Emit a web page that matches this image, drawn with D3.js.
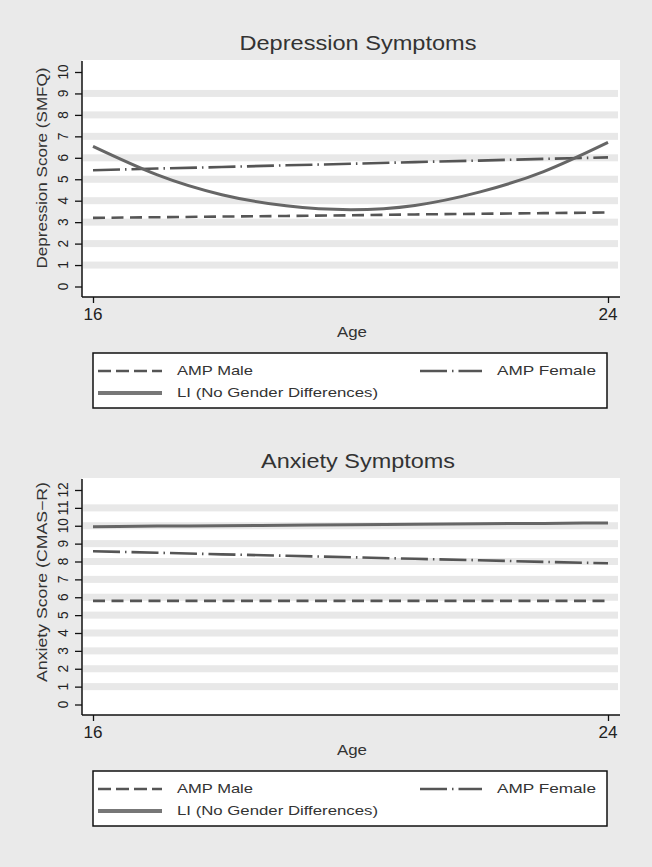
<!DOCTYPE html>
<html>
<head>
<meta charset="utf-8">
<script src="https://cdn.jsdelivr.net/npm/d3@7"></script>
<style>
  html, body { margin: 0; padding: 0; background: #eaeaea; }
  svg { display: block; }
  text { font-family: "Liberation Sans", Arial, Helvetica, sans-serif; }
</style>
</head>
<body>
<script>
// ---------- data ----------
const ages = [16, 17, 18, 19, 20, 21, 22, 23, 24];
const xTicks = [16, 24];

const depTitle = "Depression Symptoms";
const depYLabel = "Depression Score (SMFQ)";
const depYTicks = [0, 1, 2, 3, 4, 5, 6, 7, 8, 9, 10];
const depMale   = [3.20, 3.23, 3.26, 3.29, 3.32, 3.36, 3.39, 3.42, 3.45];
const depFemale = [5.42, 5.50, 5.57, 5.65, 5.72, 5.80, 5.87, 5.95, 6.02];
const depLI     = [6.53, 5.20, 4.28, 3.76, 3.58, 3.78, 4.40, 5.36, 6.72];

const anxTitle = "Anxiety Symptoms";
const anxYLabel = "Anxiety Score (CMAS\u2212R)";
const anxYTicks = [0, 1, 2, 3, 4, 5, 6, 7, 8, 9, 10, 11, 12];
const anxMale   = [5.80, 5.80, 5.80, 5.80, 5.80, 5.80, 5.80, 5.80, 5.80];
const anxFemale = [8.57, 8.49, 8.40, 8.32, 8.24, 8.15, 8.07, 7.98, 7.90];
const anxLI     = [9.95, 9.98, 10.00, 10.03, 10.06, 10.08, 10.11, 10.13, 10.16];

const legendLabels = ["AMP Male", "AMP Female", "LI (No Gender Differences)"];
const xLabel = "Age";

// ---------- drawing ----------
const W = 652, H = 867;
const svg = d3.select("body").append("svg").attr("width", W).attr("height", H);
svg.append("rect").attr("width", W).attr("height", H).attr("fill", "#eaeaea");

const styles = {
  male:   { color: "#555", width: 2.6, dash: "12,6.5" },
  female: { color: "#555", width: 2.6, dash: "27,5,1.5,5" },
  li:     { color: "#666", width: 3,   dash: null }
};

function drawPanel(offsetY, cfg) {
  const g = svg.append("g").attr("transform", `translate(0,${offsetY})`);
  const plot = { left: 82, right: 620, top: 60, bottom: 297 };
  const x = d3.scaleLinear().domain([16, 24]).range([93, 608]);
  const ymax = cfg.yTicks[cfg.yTicks.length - 1];
  const y = d3.scaleLinear().domain([0, ymax]).range([286.5, 72]);

  // title
  g.append("text").attr("x", 358).attr("y", 50).attr("text-anchor", "middle")
    .attr("font-size", 20).attr("fill", "#333")
    .attr("textLength", cfg.titleLen).attr("lengthAdjust", "spacingAndGlyphs")
    .text(cfg.title);

  // plot region
  g.append("rect").attr("x", plot.left).attr("y", plot.top)
    .attr("width", plot.right - plot.left).attr("height", plot.bottom - plot.top)
    .attr("fill", "#ffffff");

  // grid bands
  g.selectAll("rect.grid").data(cfg.yTicks.slice(1, -1)).enter().append("rect")
    .attr("class", "grid")
    .attr("x", plot.left + 1).attr("width", plot.right - plot.left - 3)
    .attr("y", d => y(d) - 3.5).attr("height", 7)
    .attr("fill", "#e8e8e8");

  // series
  const line = d3.line().x((d, i) => x(ages[i])).y(d => y(d));
  const lineCurve = d3.line().x((d, i) => x(ages[i])).y(d => y(d)).curve(d3.curveNatural);
  [["male", cfg.male, line], ["female", cfg.female, line], ["li", cfg.li, lineCurve]].forEach(([k, vals, gen]) => {
    const s = styles[k];
    g.append("path").attr("d", gen(vals)).attr("fill", "none")
      .attr("stroke", s.color).attr("stroke-width", s.width)
      .attr("stroke-dasharray", s.dash);
  });

  // y axis
  const yAxis = d3.axisLeft(y).tickValues(cfg.yTicks).tickSize(7).tickFormat("");
  const ya = g.append("g").attr("transform", `translate(${plot.left},0)`).call(yAxis);
  ya.select(".domain").remove();
  ya.selectAll(".tick line").attr("stroke", "#111").attr("stroke-width", 1.3);
  g.append("line").attr("x1", plot.left).attr("x2", plot.left)
    .attr("y1", plot.top + 1).attr("y2", plot.bottom)
    .attr("stroke", "#111").attr("stroke-width", 1.5);
  g.selectAll("text.ytl").data(cfg.yTicks).enter().append("text")
    .attr("class", "ytl")
    .attr("transform", d => `translate(68,${y(d)}) rotate(-90)`)
    .attr("text-anchor", "middle").attr("font-size", 14).attr("fill", "#222")
    .attr("textLength", d => String(d).length * 7.6).attr("lengthAdjust", "spacingAndGlyphs")
    .text(d => d);

  // y label
  g.append("text").attr("transform", `translate(47,${cfg.yLabelY}) rotate(-90)`)
    .attr("text-anchor", "middle").attr("font-size", 14).attr("fill", "#333")
    .attr("textLength", cfg.yLabelLen).attr("lengthAdjust", "spacingAndGlyphs")
    .text(cfg.yLabel);

  // x axis
  const xAxis = d3.axisBottom(x).tickValues(xTicks).tickSize(6).tickFormat("");
  const xa = g.append("g").attr("transform", `translate(0,${plot.bottom})`).call(xAxis);
  xa.select(".domain").remove();
  xa.selectAll(".tick line").attr("stroke", "#111").attr("stroke-width", 1.3);
  g.append("line").attr("x1", plot.left).attr("x2", plot.right)
    .attr("y1", plot.bottom).attr("y2", plot.bottom)
    .attr("stroke", "#111").attr("stroke-width", 1.5);
  g.selectAll("text.xtl").data(xTicks).enter().append("text")
    .attr("class", "xtl").attr("x", d => x(d)).attr("y", 320)
    .attr("text-anchor", "middle").attr("font-size", 16).attr("fill", "#222")
    .attr("textLength", 19).attr("lengthAdjust", "spacingAndGlyphs")
    .text(d => d);
  g.append("text").attr("x", 352).attr("y", 337).attr("text-anchor", "middle")
    .attr("font-size", 14).attr("fill", "#333")
    .attr("textLength", 30).attr("lengthAdjust", "spacingAndGlyphs")
    .text(xLabel);

  // legend
  const lg = g.append("g");
  lg.append("rect").attr("x", 93).attr("y", 353).attr("width", 514).attr("height", 55)
    .attr("fill", "#fff").attr("stroke", "#111").attr("stroke-width", 1.5);
  const items = [
    { k: "male",   x1: 98,  x2: 162, ly: 371, tx: 177, ty: 375, len: 76,  label: legendLabels[0], dash: "13,5" },
    { k: "female", x1: 420, x2: 482, ly: 371, tx: 497, ty: 375, len: 99,  label: legendLabels[1], dash: "27,5,1.5,5" },
    { k: "li",     x1: 98,  x2: 162, ly: 393, tx: 177, ty: 397, len: 201, label: legendLabels[2], dash: null }
  ];
  items.forEach(it => {
    const s = styles[it.k];
    lg.append("line").attr("x1", it.x1).attr("x2", it.x2).attr("y1", it.ly).attr("y2", it.ly)
      .attr("stroke", it.k === "li" ? "#777" : s.color)
      .attr("stroke-width", it.k === "li" ? 4 : s.width)
      .attr("stroke-dasharray", it.dash);
    lg.append("text").attr("x", it.tx).attr("y", it.ty).attr("font-size", 13.5)
      .attr("fill", "#333")
      .attr("textLength", it.len).attr("lengthAdjust", "spacingAndGlyphs")
      .text(it.label);
  });
}

drawPanel(0, {
  title: depTitle, titleLen: 237, yLabel: depYLabel, yLabelY: 168, yLabelLen: 201,
  yTicks: depYTicks, male: depMale, female: depFemale, li: depLI
});
drawPanel(418, {
  title: anxTitle, titleLen: 194, yLabel: anxYLabel, yLabelY: 164, yLabelLen: 200,
  yTicks: anxYTicks, male: anxMale, female: anxFemale, li: anxLI
});
</script>
</body>
</html>
